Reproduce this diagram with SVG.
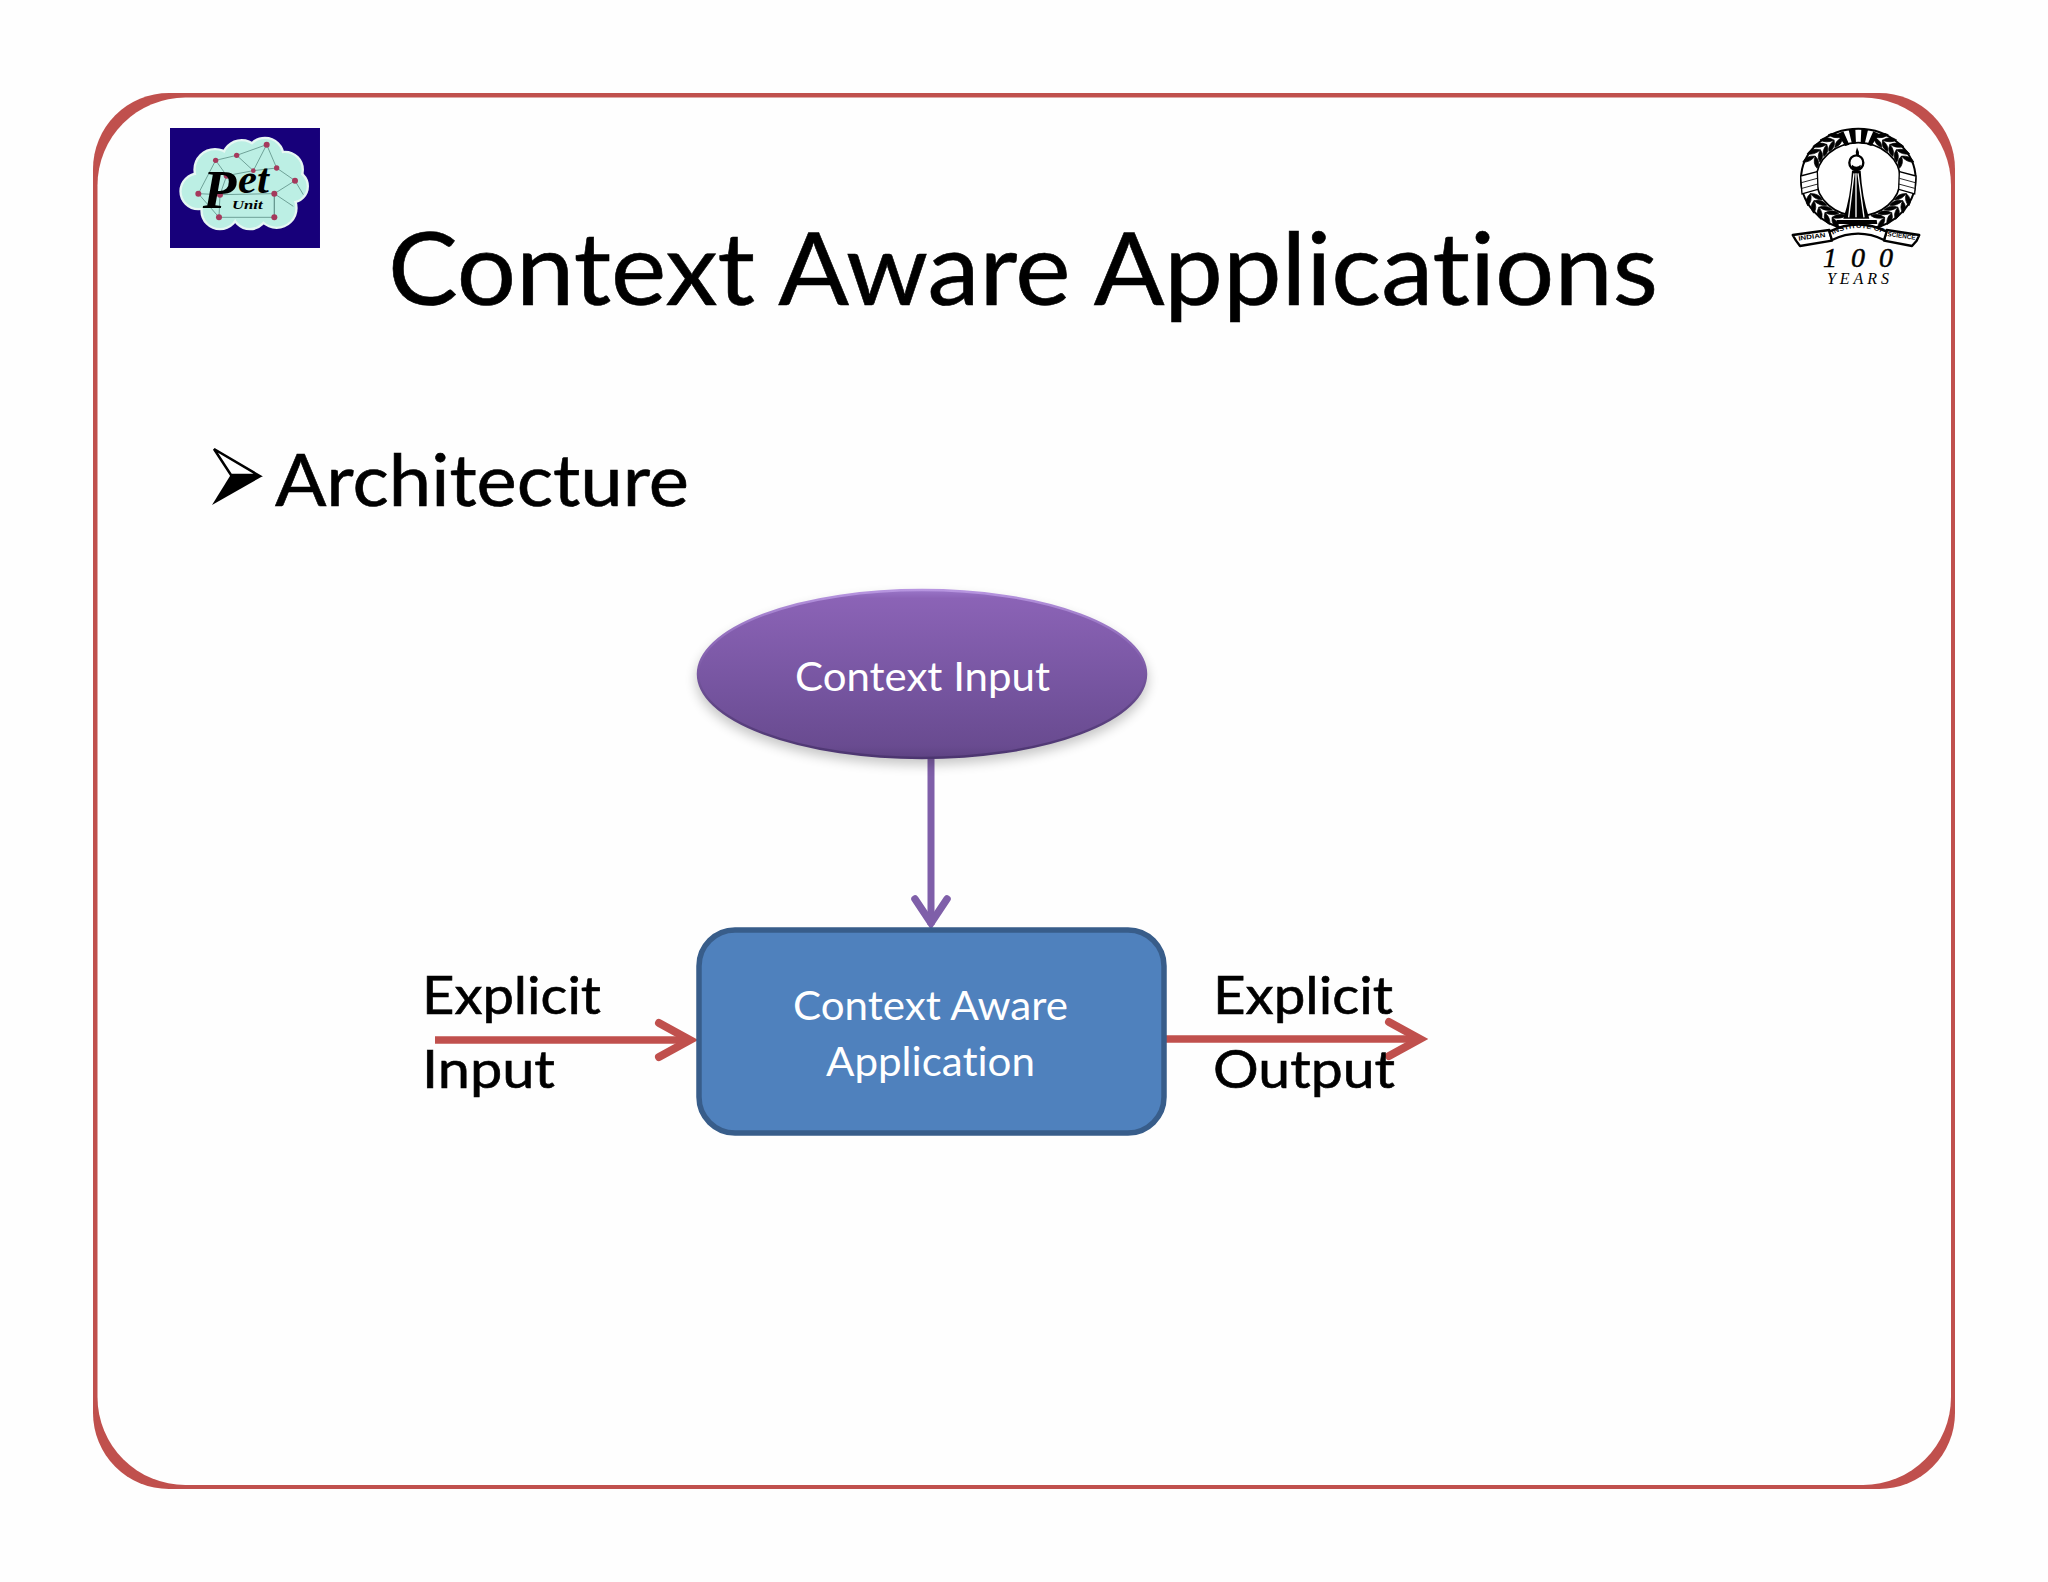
<svg xmlns="http://www.w3.org/2000/svg" xmlns:xlink="http://www.w3.org/1999/xlink" width="2048" height="1582" viewBox="0 0 2048 1582">
<style>
text{font-variant-ligatures:none}
.t{font-family:"Lato","Carlito","Open Sans",sans-serif;fill:#000;stroke:#000;stroke-width:.6}
.w{font-family:"Lato","Carlito","Open Sans",sans-serif;fill:#fff;font-size:40px}
.lbl{font-size:52px}
.s{font-family:"Liberation Serif",serif;fill:#000}
.b{font-family:"Liberation Sans",sans-serif;font-weight:bold;fill:#000;font-size:19px}
.red{fill:none;stroke:#c0504d;stroke-width:7.5}
.pur{fill:none;stroke:#7f5fa9;stroke-width:7}
.ln{stroke:#5f9188;stroke-width:2.5;fill:none}
.nd{fill:#a5395c}
</style>
<defs>
<linearGradient id="ov" x1="0" y1="0" x2="0" y2="1">
<stop offset="0" stop-color="#9a76c8"/><stop offset=".05" stop-color="#8b63b6"/><stop offset=".6" stop-color="#75549f"/><stop offset=".93" stop-color="#694b90"/><stop offset="1" stop-color="#5d4282"/>
</linearGradient>
<linearGradient id="ovr" x1="0" y1="0" x2="0" y2="1">
<stop offset="0" stop-color="#b795e0"/><stop offset=".35" stop-color="#8a66b5"/><stop offset=".7" stop-color="#5f4485"/><stop offset="1" stop-color="#4c3570"/>
</linearGradient>
<filter id="sh" x="-20%" y="-20%" width="140%" height="150%"><feGaussianBlur stdDeviation="6"/></filter>
<marker id="ah" markerUnits="userSpaceOnUse" markerWidth="50" markerHeight="50" refX="36" refY="25" orient="auto" overflow="visible">
<path d="M4,8 L35,25 L4,42" fill="none" stroke="#c0504d" stroke-width="8" stroke-linejoin="miter" stroke-linecap="round"/>
</marker>
<marker id="ap" markerUnits="userSpaceOnUse" markerWidth="50" markerHeight="50" refX="38" refY="25" orient="auto" overflow="visible">
<path d="M12,9 L36,25 L12,41" fill="none" stroke="#7f5fa9" stroke-width="7.5" stroke-linecap="round"/>
</marker>
<path id="leaf" d="M14,-148 Q4,-174 -20,-172 Q-12,-152 14,-148Z M14,-148 Q4,-124 -20,-125 Q-12,-144 14,-148Z" fill="#000" stroke="#000" stroke-width="2"/>
<path id="arc" d="M128,344 Q205,304 290,344"/>
</defs>

<rect width="2048" height="1582" fill="#fefefe"/>

<g id="frame">
<rect x="93" y="93" width="1862" height="1396" rx="76" ry="76" fill="#c0504d"/>
<rect x="97.5" y="97.5" width="1853.5" height="1387.5" rx="88" ry="88" fill="#fefefe"/>
</g>

<g id="logo-pet" transform="translate(170 128) scale(.3333)">
<rect width="450" height="360" fill="#17007a"/>
<g fill="#e6f7f3" stroke="#e6f7f3" stroke-width="14">
<circle cx="85" cy="190" r="50"/><circle cx="135" cy="125" r="58"/><circle cx="215" cy="95" r="55"/><circle cx="285" cy="85" r="52"/><circle cx="345" cy="125" r="50"/><circle cx="365" cy="175" r="45"/><circle cx="320" cy="240" r="56"/><circle cx="240" cy="250" r="50"/><circle cx="150" cy="248" r="52"/><circle cx="225" cy="175" r="100"/>
</g>
<g fill="#bcefe4">
<circle cx="85" cy="190" r="50"/><circle cx="135" cy="125" r="58"/><circle cx="215" cy="95" r="55"/><circle cx="285" cy="85" r="52"/><circle cx="345" cy="125" r="50"/><circle cx="365" cy="175" r="45"/><circle cx="320" cy="240" r="56"/><circle cx="240" cy="250" r="50"/><circle cx="150" cy="248" r="52"/><circle cx="225" cy="175" r="100"/>
</g>
<path class="ln" d="M290,50 L200,82 L137,97 L85,197 L150,200 L147,268 L313,268 L313,197 L375,158 L320,120 L290,50 M200,82 L250,128 L320,120 M137,97 L170,143 L250,128 M85,197 L147,268 M150,200 L313,197 M170,143 L150,200 M313,268 L313,197 M375,158 L400,200 M313,197 L370,235 M290,50 L250,128"/>
<g class="nd">
<circle cx="290" cy="50" r="9"/><circle cx="200" cy="82" r="8"/><circle cx="137" cy="97" r="8"/><circle cx="320" cy="120" r="8"/><circle cx="375" cy="158" r="9"/><circle cx="170" cy="143" r="9"/><circle cx="250" cy="128" r="7"/><circle cx="85" cy="197" r="9"/><circle cx="150" cy="200" r="9"/><circle cx="313" cy="197" r="9"/><circle cx="147" cy="268" r="9"/><circle cx="313" cy="268" r="9"/>
</g>
<text class="s" font-weight="bold" font-style="italic"><tspan x="98" y="240" font-size="165">P</tspan><tspan x="204" y="196" font-size="128">et</tspan></text>
<text class="s" x="186" y="244" font-size="38" font-style="italic" font-weight="bold" textLength="92" lengthAdjust="spacingAndGlyphs" fill="#20403c">Unit</text>
</g>

<g id="logo-iisc" transform="translate(1790 120) scale(.3333)">
<ellipse cx="205" cy="178" rx="172" ry="152" fill="#fff" stroke="#000" stroke-width="6"/>
<ellipse cx="205" cy="178" rx="126" ry="110" fill="none" stroke="#000" stroke-width="5"/>
<g transform="translate(205 178) scale(1.02 .9)">
<use xlink:href="#leaf" transform="rotate(-24)"/><use xlink:href="#leaf" transform="rotate(-34)"/><use xlink:href="#leaf" transform="rotate(-44)"/><use xlink:href="#leaf" transform="rotate(-54)"/><use xlink:href="#leaf" transform="rotate(-64)"/>
<use xlink:href="#leaf" transform="rotate(-114)"/><use xlink:href="#leaf" transform="rotate(-124)"/><use xlink:href="#leaf" transform="rotate(-134)"/><use xlink:href="#leaf" transform="rotate(-144)"/><use xlink:href="#leaf" transform="rotate(-154)"/>
<g transform="scale(-1 1)">
<use xlink:href="#leaf" transform="rotate(-24)"/><use xlink:href="#leaf" transform="rotate(-34)"/><use xlink:href="#leaf" transform="rotate(-44)"/><use xlink:href="#leaf" transform="rotate(-54)"/><use xlink:href="#leaf" transform="rotate(-64)"/>
<use xlink:href="#leaf" transform="rotate(-114)"/><use xlink:href="#leaf" transform="rotate(-124)"/><use xlink:href="#leaf" transform="rotate(-134)"/><use xlink:href="#leaf" transform="rotate(-144)"/><use xlink:href="#leaf" transform="rotate(-154)"/>
</g>
</g>
<path d="M160,34 L178,74 L166,78 L142,42Z M196,27 L198,70 L186,72 L176,30Z M250,34 L232,74 L244,78 L268,42Z M214,27 L212,70 L224,72 L234,30Z" fill="#000"/>
<path d="M32,168 L82,155 L84,208 L36,222Z M378,168 L328,155 L326,208 L374,222Z" fill="#fff" stroke="#000" stroke-width="4"/>
<path d="M34,188 L82,175 M36,205 L84,192 M376,188 L328,175 M374,205 L326,192" stroke="#000" stroke-width="2.5"/>
<path d="M199,110 Q195,95 201,82 Q209,95 207,110Z" fill="#000"/>
<ellipse cx="199" cy="128" rx="21" ry="22" fill="#fff" stroke="#000" stroke-width="7"/>
<path d="M186,134 Q199,146 212,134 L212,150 L186,150Z" fill="#000"/>
<path d="M186,152 L212,152 Q216,230 238,296 L160,296 Q182,230 186,152Z" fill="#000"/>
<path d="M192,160 L176,292 M204,160 L222,292 M198,160 L198,292" stroke="#fff" stroke-width="4" fill="none"/>
<path d="M140,300 L260,300 L262,312 L138,312Z" fill="#000"/>
<path d="M8,345 L118,330 L126,362 L30,378 L18,362Z M388,345 L290,330 L282,362 L366,378 L380,362Z" fill="#fff" stroke="#000" stroke-width="7" stroke-linejoin="round"/>
<path d="M118,335 Q205,292 290,335 L282,360 Q205,322 126,360Z" fill="#fff" stroke="#000" stroke-width="7" stroke-linejoin="round"/>
<text class="b" transform="translate(26 362) rotate(-8)" textLength="82" lengthAdjust="spacingAndGlyphs">INDIAN</text>
<text class="b" font-size="18"><textPath xlink:href="#arc" textLength="158" lengthAdjust="spacingAndGlyphs">INSTITUTE OF</textPath></text>
<text class="b" transform="translate(292 348) rotate(8)" textLength="84" lengthAdjust="spacingAndGlyphs">SCIENCE</text>
</g>
<g id="iisc-caption">
<text class="s" x="1823" y="267" font-size="28" font-style="italic" stroke="#000" stroke-width=".5" textLength="70">1 0 0</text>
<text class="s" x="1827" y="284" font-size="16" font-style="italic" textLength="62">YEARS</text>
</g>

<text id="title" class="t" x="388" y="305" font-size="100" textLength="1270" lengthAdjust="spacingAndGlyphs">Context Aware Applications</text>

<g id="bullet">
<path d="M214,449 L258,475 L231,475Z" fill="#fff" stroke="#000" stroke-width="2.5"/>
<path d="M212,505 L263,476 L230,476Z" fill="#000"/>
<text class="t" x="275" y="506" font-size="72" textLength="414" lengthAdjust="spacingAndGlyphs">Architecture</text>
</g>

<g id="connectors">
<line class="pur" x1="931" y1="759" x2="931" y2="925" marker-end="url(#ap)"/>
<line class="red" x1="435" y1="1040" x2="691" y2="1040" marker-end="url(#ah)"/>
<line class="red" x1="1165" y1="1039" x2="1421" y2="1039" marker-end="url(#ah)"/>
</g>

<g id="node-context-input">
<ellipse cx="922" cy="680" rx="226" ry="85" fill="#000" opacity=".22" filter="url(#sh)"/>
<ellipse cx="922" cy="674" rx="224" ry="84" fill="url(#ov)" stroke="url(#ovr)" stroke-width="2.5"/>
<text class="w" x="795" y="691" textLength="255" lengthAdjust="spacingAndGlyphs">Context Input</text>
</g>

<g id="node-app">
<rect x="699" y="930" width="465" height="203" rx="36" ry="36" fill="#4f81bd" stroke="#385d8a" stroke-width="5.5"/>
<text class="w" x="793" y="1020" textLength="275" lengthAdjust="spacingAndGlyphs">Context Aware</text>
<text class="w" x="826" y="1076" textLength="209" lengthAdjust="spacingAndGlyphs">Application</text>
</g>

<g id="label-explicit-input">
<text class="t lbl" x="422" y="1014" textLength="179" lengthAdjust="spacingAndGlyphs">Explicit</text>
<text class="t lbl" x="422" y="1088" textLength="133" lengthAdjust="spacingAndGlyphs">Input</text>
</g>
<g id="label-explicit-output">
<text class="t lbl" x="1213" y="1014" textLength="180" lengthAdjust="spacingAndGlyphs">Explicit</text>
<text class="t lbl" x="1213" y="1088" textLength="182" lengthAdjust="spacingAndGlyphs">Output</text>
</g>
</svg>
